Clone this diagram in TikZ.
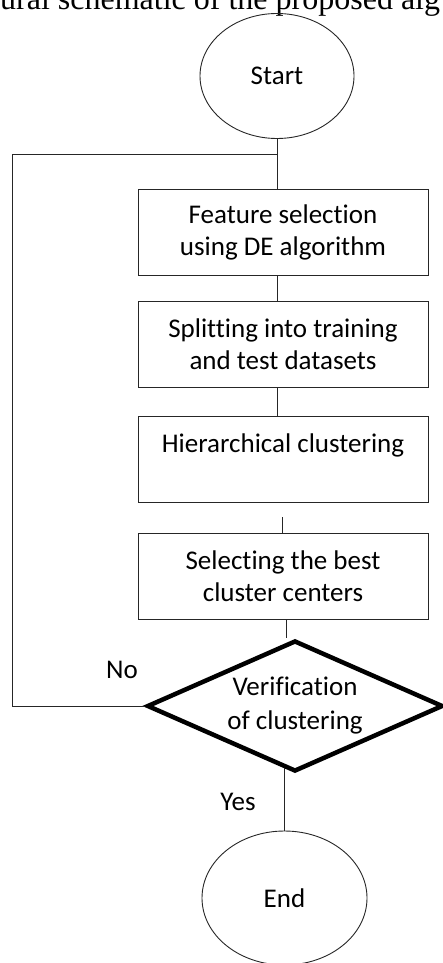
\documentclass[tikz,border=0pt]{standalone}
\usepackage{fontspec}
\setmainfont{Carlito}[Ligatures=NoCommon]
\newfontfamily\capfont{Liberation Serif}
\usetikzlibrary{shapes.geometric}
\tikzset{
  thin line/.style={line width=0.9pt, draw=black!85},
  term/.style={ellipse, draw, thin line, inner sep=0pt, font=\fontsize{27}{32}\selectfont},
  procbox/.style={rectangle, draw, thin line, minimum width=290pt, minimum height=86pt, inner sep=0pt, align=center, font=\fontsize{27}{32}\selectfont},
  decision/.style={diamond, draw, line width=4.5pt, line join=miter, minimum width=296pt, minimum height=131pt, inner sep=0pt, shape aspect=2.26, align=center, font=\fontsize{27}{34}\selectfont},
  lbl/.style={inner sep=0pt, font=\fontsize{27}{30}\selectfont},
  captxt/.style={inner sep=0pt, font=\capfont\fontsize{32}{36}\selectfont}
}
\begin{document}
\begin{tikzpicture}[x=1pt, y=-1pt]
\useasboundingbox (0,0) rectangle (443,963);
\node[captxt, anchor=base west] (cap) at (0,10) {ural schematic of the proposed alg};
\node[term, minimum width=154pt, minimum height=125pt] (start) at (277,76) {Start};
\node[procbox] (b1) at (283,232) {Feature selection\\using DE algorithm};
\node[procbox] (b2) at (283,344) {Splitting into training\\and test datasets};
\node[procbox] (b3) at (283,459) {Hierarchical clustering\\~};
\node[procbox] (b4) at (283,576) {Selecting the best\\cluster centers};
\node[decision] (dec) at (295,706) {Verification\\of clustering};
\node[term, minimum width=165pt, minimum height=134pt] (end) at (284.5,898) {End};
\node[lbl] (no) at (122,670) {No};
\node[lbl] (yes) at (238,802) {Yes};
% connectors
\coordinate (fbt) at (12,154);
\coordinate (fbb) at (12,706);
\coordinate (gap) at (282,517);
\coordinate (d1) at (286,619);
\coordinate (y1) at (284,768);
\draw[thin line] (start.south) -- (start.south |- b1.north);
\draw[thin line] (start.south |- b1.south) -- (start.south |- b2.north);
\draw[thin line] (start.south |- b2.south) -- (start.south |- b3.north);
\draw[thin line] (gap) -- (gap |- b4.north);
\draw[thin line] (d1) -- (d1 |- dec.north);
\draw[thin line] (y1) -- (y1 |- end.north);
\draw[thin line] (dec.west) -- (fbb) -- (fbt) -- (start.south |- fbt);
\end{tikzpicture}
\end{document}
